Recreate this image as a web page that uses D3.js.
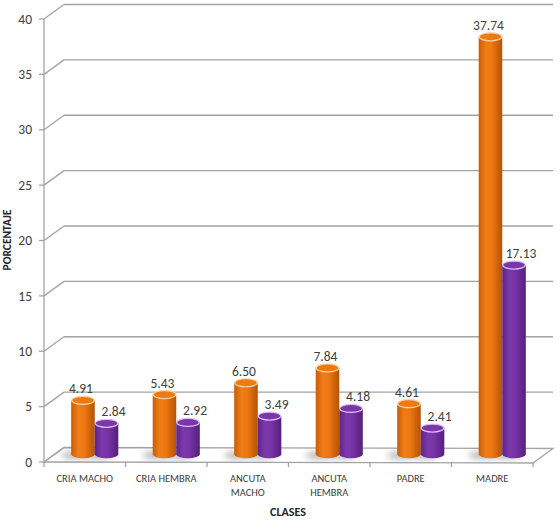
<!DOCTYPE html>
<html>
<head>
<meta charset="utf-8">
<script src="https://cdn.jsdelivr.net/npm/d3@7"></script>
<style>
  body { margin: 0; background: #ffffff; }
  svg { display: block; }
</style>
</head>
<body>
<div id="chart"></div>
<script>
var WIDTH = 560;
var HEIGHT = 531;

// chart data
var categories = ["CRIA MACHO", "CRIA HEMBRA", "ANCUTA MACHO", "ANCUTA HEMBRA", "PADRE", "MADRE"];
var categoryLines = [["CRIA MACHO"], ["CRIA HEMBRA"], ["ANCUTA", "MACHO"], ["ANCUTA", "HEMBRA"], ["PADRE"], ["MADRE"]];
var seriesNames = ["s1", "s2"];
var series1 = [4.91, 5.43, 6.50, 7.84, 4.61, 37.74];
var series2 = [2.84, 2.92, 3.49, 4.18, 2.41, 17.13];
var yTicks = [0, 5, 10, 15, 20, 25, 30, 35, 40];

var FONT = "Carlito, Calibri, Lato, 'Open Sans', sans-serif";
var GRID = "#a3a3a3";

// 3d depth offset of the back wall
var DX = 20, DY = -14.5;
var RY = 4;

var svg = d3.select("#chart").append("svg")
    .attr("width", WIDTH)
    .attr("height", HEIGHT);

var y = d3.scaleLinear().domain([0, 40]).range([462, 19]);

var x = d3.scaleBand().domain(categories).range([44, 533]).padding(0);

var x1 = d3.scaleBand().domain(seriesNames).range([0, x.bandwidth()])
    .paddingInner(0).paddingOuter(0.73);

// gradients for cylinders
var defs = svg.append("defs");

function cylGradient(id, stops) {
  var g = defs.append("linearGradient").attr("id", id)
      .attr("x1", "0%").attr("x2", "100%").attr("y1", "0%").attr("y2", "0%");
  stops.forEach(function(s) {
    g.append("stop").attr("offset", s[0]).attr("stop-color", s[1]);
  });
}
cylGradient("gOrange", [["0%", "#c85c06"], ["30%", "#f07d18"], ["55%", "#ee7812"], ["100%", "#b65205"]]);
cylGradient("gPurple", [["0%", "#5e2488"], ["30%", "#7b38ab"], ["55%", "#7734a6"], ["100%", "#561f7e"]]);

defs.append("filter").attr("id", "blur")
    .attr("x", "-50%").attr("y", "-50%").attr("width", "200%").attr("height", "200%")
  .append("feGaussianBlur").attr("stdDeviation", 3);

var colors = {
  s1: { fill: "url(#gOrange)", top: "#ee7a14", rim: "#fbd2a8" },
  s2: { fill: "url(#gPurple)", top: "#7a36aa", rim: "#d9c2ee" }
};

// ---- floor ----
var xl = 44, xr = 533;
svg.append("path")
    .attr("d", "M" + xl + "," + y(0) + "L" + xr + "," + (y(0) + 1) +
               "L" + (xr + DX) + "," + (y(0) + 1 + DY) + "L" + (xl + DX) + "," + (y(0) + DY) + "Z")
    .attr("fill", "#ffffff")
    .attr("stroke", GRID)
    .attr("stroke-width", 1.3);

// ---- back wall gridlines + left wall diagonals ----
var grid = svg.append("g");
grid.selectAll("line.back")
    .data(yTicks.filter(function(d) { return d > 0; }))
    .enter().append("line")
    .attr("x1", xl + DX).attr("x2", xr + DX)
    .attr("y1", function(d) { return y(d) + DY; })
    .attr("y2", function(d) { return y(d) + DY; })
    .attr("stroke", GRID).attr("stroke-width", 1.3);

grid.selectAll("line.diag")
    .data(yTicks)
    .enter().append("line")
    .attr("x1", xl).attr("x2", xl + DX)
    .attr("y1", function(d) { return y(d); })
    .attr("y2", function(d) { return y(d) + DY; })
    .attr("stroke", GRID).attr("stroke-width", 1.3);

// y axis line with ticks
svg.append("line")
    .attr("x1", xl).attr("x2", xl).attr("y1", y(40)).attr("y2", y(0))
    .attr("stroke", GRID).attr("stroke-width", 1.3);

svg.selectAll("line.ytick")
    .data(yTicks).enter().append("line")
    .attr("x1", xl - 5).attr("x2", xl)
    .attr("y1", function(d) { return y(d); })
    .attr("y2", function(d) { return y(d); })
    .attr("stroke", GRID).attr("stroke-width", 1.3);

svg.selectAll("text.ylab")
    .data(yTicks).enter().append("text")
    .attr("x", 32)
    .attr("y", function(d) { return y(d); })
    .attr("dy", "0.35em")
    .attr("text-anchor", "end")
    .attr("font-family", FONT)
    .attr("font-size", 13.5)
    .attr("fill", "#404040")
    .text(function(d) { return d; });

// category ticks under the floor
var bounds = categories.map(function(c) { return x(c); }).concat([xr]);
svg.selectAll("line.xtick")
    .data(bounds).enter().append("line")
    .attr("x1", function(d) { return d; }).attr("x2", function(d) { return d; })
    .attr("y1", y(0)).attr("y2", y(0) + 5)
    .attr("stroke", GRID).attr("stroke-width", 1.3);

// ---- bars ----
var bars = [];
categories.forEach(function(c, i) {
  bars.push({ cat: c, s: "s1", v: series1[i] });
  bars.push({ cat: c, s: "s2", v: series2[i] });
});

var base = y(0) + DY / 2 - 0.5;
var yv = function(v) { return y(v) + DY / 2; };

function cx(d) { return x(d.cat) + x1(d.s) + x1.bandwidth() / 2 + DX / 2; }
var rx = x1.bandwidth() / 2;

// floor shadows
svg.append("g").selectAll("ellipse")
    .data(bars).enter().append("ellipse")
    .attr("cx", function(d) { return cx(d) - 8; })
    .attr("cy", base + 1)
    .attr("rx", rx + 2)
    .attr("ry", 4)
    .attr("fill", "#8c8c8c")
    .attr("opacity", 0.6)
    .attr("filter", "url(#blur)");

var cyl = svg.append("g").selectAll("g")
    .data(bars).enter().append("g");

cyl.append("ellipse")
    .attr("cx", cx).attr("cy", base)
    .attr("rx", rx).attr("ry", RY)
    .attr("fill", function(d) { return colors[d.s].fill; });

cyl.append("rect")
    .attr("x", function(d) { return cx(d) - rx; })
    .attr("y", function(d) { return yv(d.v); })
    .attr("width", rx * 2)
    .attr("height", function(d) { return base - yv(d.v); })
    .attr("fill", function(d) { return colors[d.s].fill; });

cyl.append("ellipse")
    .attr("cx", cx)
    .attr("cy", function(d) { return yv(d.v); })
    .attr("rx", rx - 0.5).attr("ry", RY)
    .attr("fill", function(d) { return colors[d.s].top; })
    .attr("stroke", function(d) { return colors[d.s].rim; })
    .attr("stroke-width", 1.2);

// value labels
svg.selectAll("text.val")
    .data(bars).enter().append("text")
    .attr("x", function(d) { return cx(d) + (d.s === "s1" ? -2 : 7); })
    .attr("y", function(d) { return yv(d.v) - 7; })
    .attr("text-anchor", "middle")
    .attr("font-family", FONT)
    .attr("font-size", 13.5)
    .attr("fill", "#404040")
    .text(function(d) { return d.v.toFixed(2); });

// category labels
var catLab = svg.selectAll("text.cat")
    .data(categories).enter().append("text")
    .attr("x", function(d) { return x(d) + x.bandwidth() / 2; })
    .attr("y", 482)
    .attr("text-anchor", "middle")
    .attr("font-family", FONT)
    .attr("font-size", 10.5)
    .attr("fill", "#404040");

catLab.selectAll("tspan")
    .data(function(d, i) { return categoryLines[i]; })
    .enter().append("tspan")
    .attr("x", function() { var p = d3.select(this.parentNode).datum(); return x(p) + x.bandwidth() / 2; })
    .attr("dy", function(d, i) { return i === 0 ? 0 : 14; })
    .text(function(d) { return d; });

// axis titles
svg.append("text")
    .attr("x", 288).attr("y", 516)
    .attr("text-anchor", "middle")
    .attr("font-family", FONT)
    .attr("font-size", 12)
    .attr("font-weight", "bold")
    .attr("fill", "#262626")
    .text("CLASES");

svg.append("text")
    .attr("transform", "translate(11,240) rotate(-90)")
    .attr("text-anchor", "middle")
    .attr("font-family", FONT)
    .attr("font-size", 11.5)
    .attr("font-weight", "bold")
    .attr("fill", "#262626")
    .text("PORCENTAJE");
</script>
</body>
</html>
